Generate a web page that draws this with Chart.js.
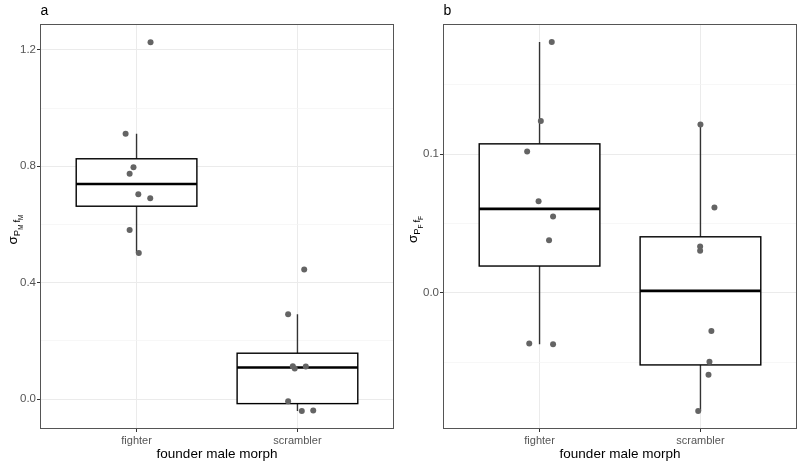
<!DOCTYPE html>
<html>
<head>
<meta charset="utf-8">
<script src="https://cdn.jsdelivr.net/npm/chart.js@4.4.1/dist/chart.umd.min.js"></script>
<style>
  html, body { margin: 0; padding: 0; background: #fff; }
  #wrap { display: flex; width: 800px; height: 464px; }
  canvas { display: block; }
</style>
</head>
<body>
<div id="wrap">
  <canvas id="ca" width="400" height="464"></canvas>
  <canvas id="cb" width="400" height="464"></canvas>
</div>
<script>
const categories = ['fighter', 'scrambler'];

// panel a values, one per replicate line
const aFighter   = [1.226, 0.912, 0.797, 0.774, 0.704, 0.690, 0.581, 0.502];
const aScrambler = [0.445, 0.291, 0.113, 0.105, 0.112, -0.008, -0.041, -0.039];
// panel b values
const bFighter   = [0.1807, 0.1238, 0.1019, 0.0661, 0.0550, 0.0380, -0.0365, -0.0370];
const bScrambler = [0.1213, 0.0615, 0.0334, 0.0303, -0.0274, -0.0495, -0.0589, -0.0851];

// horizontal jitter of each point, in category units
const aFighterJit   = [0.087, -0.068, -0.019, -0.043, 0.011, 0.085, -0.043, 0.014];
const aScramblerJit = [0.042, -0.058, -0.029, -0.017, 0.052, -0.058, 0.027, 0.098];
const bFighterJit   = [0.076, 0.008, -0.077, -0.006, 0.084, 0.059, -0.064, 0.084];
const bScramblerJit = [0.000, 0.087, -0.002, -0.002, 0.068, 0.056, 0.050, -0.014];

const aTicks = [0.0, 0.4, 0.8, 1.2];
const bTicks = [0.0, 0.1];

const FONT = '"Liberation Sans", Arial, Helvetica, sans-serif';

// quartiles (type 7) + tukey whiskers, like geom_boxplot
function boxStats(vals) {
  const s = vals.slice().sort((a, b) => a - b);
  const q = p => {
    const h = (s.length - 1) * p, lo = Math.floor(h);
    return s[lo] + (h - lo) * ((s[lo + 1] ?? s[lo]) - s[lo]);
  };
  const q1 = q(0.25), med = q(0.5), q3 = q(0.75), iqr = q3 - q1;
  const lo = Math.min(...s.filter(v => v >= q1 - 1.5 * iqr));
  const hi = Math.max(...s.filter(v => v <= q3 + 1.5 * iqr));
  return { q1, med, q3, lo, hi };
}

function isMajor(v, ticks) {
  return ticks.some(t => Math.abs(t - v) < 1e-6);
}

function makePanel(id, o) {
  const groups = [o.fighter, o.scrambler];
  const jits = [o.fighterJit, o.scramblerJit];
  const stats = groups.map(boxStats);
  const pts = [];
  groups.forEach((g, i) => g.forEach((v, k) => pts.push({ x: i + 1 + jits[i][k], y: v })));

  const ggPlugin = {
    id: 'gg' + id,
    beforeDatasetsDraw(chart) {
      const { ctx, scales: { x, y } } = chart;
      ctx.save();
      stats.forEach((s, i) => {
        const cx = x.getPixelForValue(i + 1);
        const l = x.getPixelForValue(i + 1 - 0.375), r = x.getPixelForValue(i + 1 + 0.375);
        const pq1 = y.getPixelForValue(s.q1), pq3 = y.getPixelForValue(s.q3);
        // whiskers
        ctx.strokeStyle = '#333';
        ctx.lineWidth = 1.4;
        ctx.beginPath();
        ctx.moveTo(cx, y.getPixelForValue(s.hi)); ctx.lineTo(cx, pq3);
        ctx.moveTo(cx, pq1); ctx.lineTo(cx, y.getPixelForValue(s.lo));
        ctx.stroke();
        // box
        ctx.fillStyle = '#fff';
        ctx.fillRect(l, pq3, r - l, pq1 - pq3);
        ctx.strokeStyle = '#000';
        ctx.lineWidth = 1.4;
        ctx.strokeRect(l, pq3, r - l, pq1 - pq3);
        // median
        ctx.lineWidth = 2.6;
        ctx.beginPath();
        const pm = y.getPixelForValue(s.med);
        ctx.moveTo(l, pm); ctx.lineTo(r, pm);
        ctx.stroke();
      });
      ctx.restore();
    },
    afterDraw(chart) {
      const { ctx, chartArea: a } = chart;
      ctx.save();
      // panel border
      ctx.strokeStyle = '#555';
      ctx.lineWidth = 1;
      ctx.strokeRect(Math.round(a.left) + 0.5, Math.round(a.top) + 0.5,
        Math.round(a.right - a.left) - 1, Math.round(a.bottom - a.top) - 1);
      // panel tag
      ctx.fillStyle = '#000';
      ctx.font = '14px ' + FONT;
      ctx.textBaseline = 'middle';
      ctx.textAlign = 'left';
      ctx.fillText(o.tag, a.left + 0.5, 11);
      // x title
      ctx.textAlign = 'center';
      ctx.font = '13.5px ' + FONT;
      ctx.fillText('founder male morph', (a.left + a.right) / 2, 454);
      // y title: sigma with nested subscripts
      const parts = [['σ', 13.5, 0], ['P', 9.5, 3], [o.sub, 6.5, 5.5], ['\u2009f', 9.5, 3], [o.sub, 6.5, 5.5]];
      let total = 0;
      parts.forEach(p => { ctx.font = p[1] + 'px ' + FONT; p.push(ctx.measureText(p[0]).width); total += p[3]; });
      ctx.translate(o.titleX, (a.top + a.bottom) / 2 + 3);
      ctx.rotate(-Math.PI / 2);
      ctx.textAlign = 'left';
      ctx.textBaseline = 'alphabetic';
      ctx.fillStyle = '#000';
      let cx = -total / 2;
      parts.forEach(p => {
        ctx.font = p[1] + 'px ' + FONT;
        ctx.fillText(p[0], cx, 3 + p[2]);
        cx += p[3];
      });
      ctx.restore();
    }
  };

  return new Chart(document.getElementById(id), {
    type: 'scatter',
    data: {
      datasets: [{
        data: pts,
        pointRadius: 3,
        pointHoverRadius: 3,
        backgroundColor: '#646464',
        borderWidth: 0
      }]
    },
    options: {
      responsive: false,
      animation: false,
      events: [],
      layout: { padding: { top: 24, right: o.padRight, left: 0, bottom: 0 } },
      plugins: { legend: { display: false }, tooltip: { enabled: false } },
      scales: {
        x: {
          type: 'linear',
          min: 0.4, max: 2.6,
          afterFit: s => { s.height = 35; },
          border: { display: false },
          grid: { color: '#ebebeb', lineWidth: 1, tickLength: 3, tickColor: '#333' },
          ticks: {
            stepSize: 1,
            includeBounds: false,
            padding: 2,
            color: '#555',
            font: { family: FONT, size: 11 },
            callback: v => categories[Math.round(v) - 1] ?? ''
          }
        },
        y: {
          min: o.yMin, max: o.yMax,
          afterFit: s => { s.width = o.yWidth; },
          border: { display: false },
          grid: {
            color: c => isMajor(c.tick.value, o.ticks) ? '#ebebeb' : '#f4f4f4',
            lineWidth: c => isMajor(c.tick.value, o.ticks) ? 1 : 0.7,
            tickLength: 3,
            tickColor: c => isMajor(c.tick.value, o.ticks) ? '#333' : 'rgba(0,0,0,0)'
          },
          ticks: {
            stepSize: o.step,
            includeBounds: false,
            autoSkip: false,
            padding: 1,
            color: '#555',
            font: { family: FONT, size: 11.5 },
            callback: v => isMajor(v, o.ticks) ? v.toFixed(1) : ''
          }
        }
      }
    },
    plugins: [ggPlugin]
  });
}

makePanel('ca', {
  tag: 'a', sub: 'M',
  fighter: aFighter, scrambler: aScrambler,
  fighterJit: aFighterJit, scramblerJit: aScramblerJit,
  yMin: -0.103, yMax: 1.289, step: 0.2, ticks: aTicks,
  yWidth: 40, padRight: 6, titleX: 14
});
makePanel('cb', {
  tag: 'b', sub: 'F',
  fighter: bFighter, scrambler: bScrambler,
  fighterJit: bFighterJit, scramblerJit: bScramblerJit,
  yMin: -0.098, yMax: 0.1937, step: 0.05, ticks: bTicks,
  yWidth: 43, padRight: 2, titleX: 14
});
</script>
</body>
</html>
